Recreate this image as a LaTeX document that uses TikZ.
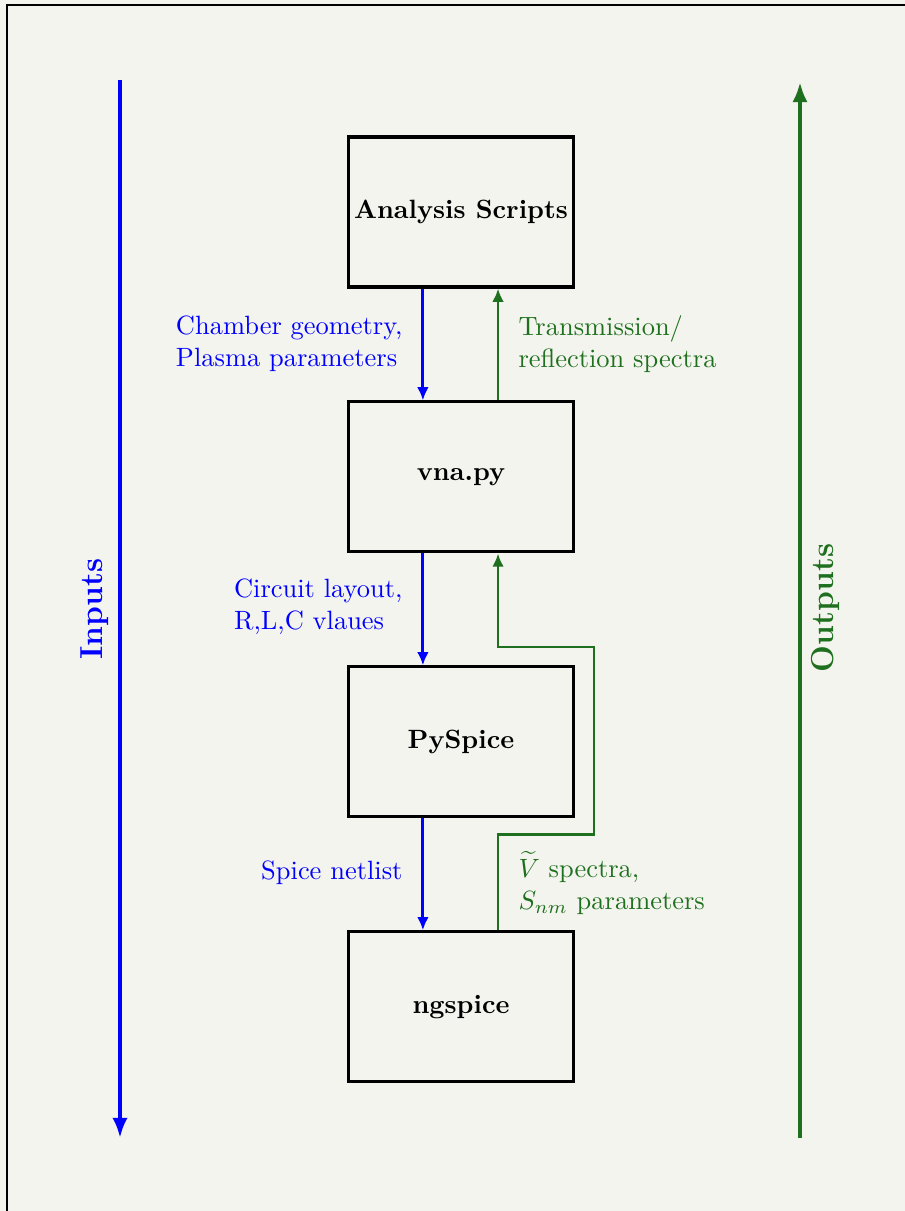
\documentclass[tikz,border=0pt]{standalone}
\usepackage{amsmath}
\usetikzlibrary{arrows.meta,positioning}
\definecolor{outgreen}{RGB}{30,112,30}
\definecolor{paper}{RGB}{244,244,238}
\begin{document}
\begin{tikzpicture}[
    x=0.378pt, y=-0.378pt,
    stage/.style={draw=black, line width=1.15pt, minimum width=85pt,
                  minimum height=56.7pt, inner xsep=1pt, align=center,
                  font=\bfseries},
    inlabel/.style={text=blue, align=left, inner sep=0pt},
    outlabel/.style={text=outgreen, align=left, inner sep=0pt},
    inarrow/.style={-{Latex[length=5pt,width=4.4pt]}, line width=1.1pt, blue},
    outarrow/.style={-{Latex[length=5pt,width=4.4pt]}, line width=1.1pt, outgreen},
    bigarrow/.style={-{Latex[length=7.6pt,width=5.8pt]}, line width=1.6pt}
]
\useasboundingbox (0,0) rectangle (905,1211);
\fill[paper] (0,0) rectangle (905,1211);
\draw[line width=0.4pt] (7,1211) -- (7,5) -- (905,5);

\node[stage] (scripts) at (461,212) {Analysis Scripts};
\node[stage, below=42.3pt of scripts] (vna) {vna.py};
\node[stage, below=42.3pt of vna] (pyspice) {PySpice};
\node[stage, below=42.3pt of pyspice] (ngspice) {ngspice};

\draw[inarrow] ([xshift=-14.4pt]scripts.south) -- ([xshift=-14.4pt]vna.north);
\draw[inarrow] ([xshift=-14.4pt]vna.south) -- ([xshift=-14.4pt]pyspice.north);
\draw[inarrow] ([xshift=-14.4pt]pyspice.south) -- ([xshift=-14.4pt]ngspice.north);
\draw[outarrow] ([xshift=14pt]vna.north) -- ([xshift=14pt]scripts.south);
\draw[outarrow] ([xshift=14pt]ngspice.north) -- ++(0,-96) -| (594,647)
    -| ([xshift=14pt]vna.south);

\node[inlabel, anchor=east] (geomlbl) at (403,344)
    {Chamber geometry,\\Plasma parameters};
\node[outlabel, anchor=west] (speclbl) at (518,344)
    {Transmission/\\reflection spectra};
\node[inlabel, anchor=east] (circlbl) at (403,607)
    {Circuit layout,\\R,L,C vlaues};
\node[inlabel, anchor=east] (netlbl) at (403,873) {Spice netlist};
\node[outlabel, anchor=west] (vlbl) at (518,883)
    {$\widetilde{V}$ spectra,\\$S_{nm}$ parameters};

\coordinate (intop) at (120,80);
\coordinate (inbot) at (120,1138);
\coordinate (outbot) at (800,1138);
\coordinate (outtop) at (800,82);
\draw[bigarrow, blue] (intop) -- (inbot);
\draw[bigarrow, outgreen] (outbot) -- (outtop);
\node[rotate=90, font=\large\bfseries, text=blue] (inname) at (95,609) {Inputs};
\node[rotate=90, font=\large\bfseries, text=outgreen] (outname) at (825,608) {Outputs};
\end{tikzpicture}
\end{document}
